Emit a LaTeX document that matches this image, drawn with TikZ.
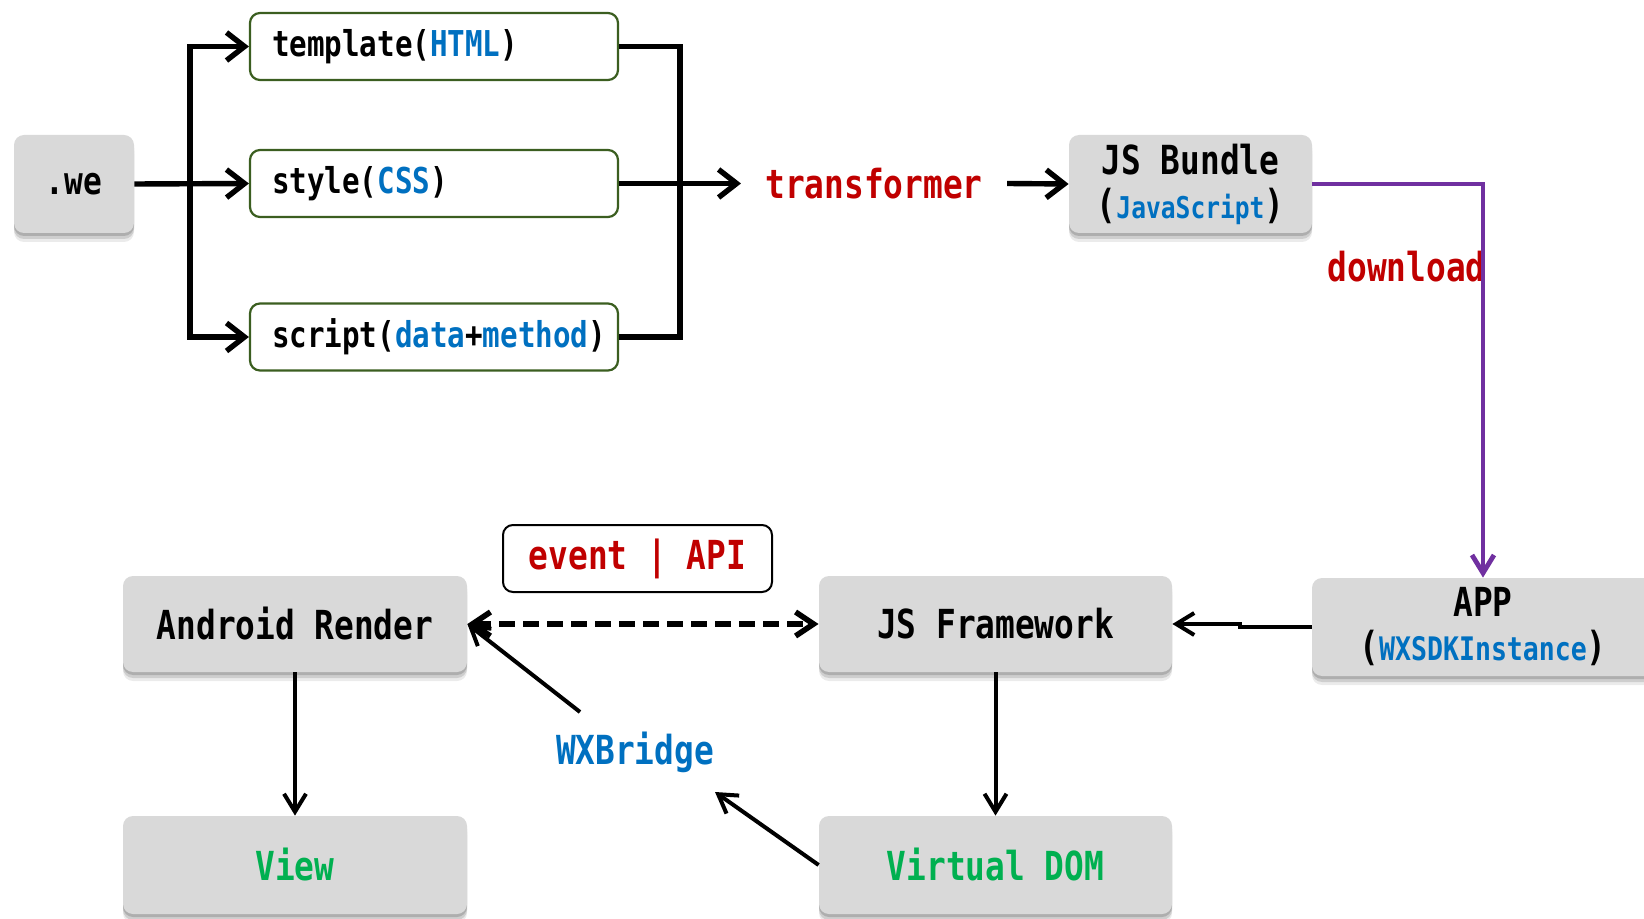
\documentclass[tikz,border=0pt]{standalone}
\usepackage{fontspec}
\setmonofont{DejaVu Sans Mono}[FakeStretch=0.82]
\usetikzlibrary{arrows.meta,positioning,shadows}

\definecolor{boxgray}{HTML}{D9D9D9}
\definecolor{partgreen}{HTML}{3B5E20}
\definecolor{cred}{HTML}{C00000}
\definecolor{cblue}{HTML}{0070C0}
\definecolor{cgreen}{HTML}{00B050}
\definecolor{cpurple}{HTML}{7030A0}

\newcommand{\bluetxt}[1]{\textcolor{cblue}{#1}}
\newcommand{\fsz}[1]{\fontsize{#1}{22}\selectfont}

\begin{document}
\begin{tikzpicture}[x=0.5pt,y=-0.5pt]
\tikzstyle{gbox}=[fill=boxgray, rounded corners=5pt, inner sep=0pt, align=center,
  drop shadow={shadow xshift=0pt,shadow yshift=-4.5pt,fill=black!40,opacity=.2},
  drop shadow={shadow xshift=0pt,shadow yshift=-3pt,fill=black!45,opacity=.3},
  drop shadow={shadow xshift=0pt,shadow yshift=-1.5pt,fill=black!50,opacity=.4},
  font=\ttfamily\bfseries\fsz{20}]
\tikzstyle{part}=[draw=partgreen, line width=1.1pt, rounded corners=5pt, fill=white,
  minimum width=184pt, minimum height=33.5pt, text width=162pt, inner xsep=11pt,
  inner ysep=0pt, align=left, font=\ttfamily\bfseries\fsz{17.8}]
\tikzstyle{lbl}=[font=\ttfamily\bfseries\fsz{20}, inner sep=0pt]
\tikzstyle{thk}=[line width=2.7pt, -{Straight Barb[length=9pt,width=14pt]}]
\tikzstyle{thn}=[line width=2pt, -{Straight Barb[length=9pt,width=11pt]}]

\useasboundingbox (0,0) rectangle (1644,919);

% source file and its parts
\node[gbox, minimum width=60pt, minimum height=49pt, font=\ttfamily\bfseries\fsz{19}] (we) at (74,184) {.we};
\node[part] (tpl) at (434,46.5) {template(\bluetxt{HTML})};
\node[part] (sty) at (434,183.5) {style(\bluetxt{CSS})};
\node[part] (scr) at (434,337) {script(\bluetxt{data}+\bluetxt{method})};

\node[lbl, text=cred, inner xsep=12pt] (trans) at (874,183.5) {transformer};
\node[gbox, minimum width=121.5pt, minimum height=49pt] (bundle) at (1190.5,184)
  {JS Bundle\\({\fsz{15}\bluetxt{JavaScript}})};
\node[lbl, text=cred, anchor=east] (dl) at (1486,267) {download};
\node[gbox, minimum width=171pt, minimum height=49pt] (app) at (1483,627)
  {APP\\({\fsz{16.2}\bluetxt{WXSDKInstance}})};

% runtime
\node[gbox, minimum width=176.5pt, minimum height=48pt] (jsf) at (995.5,624) {JS Framework};
\node[gbox, minimum width=172pt, minimum height=48pt] (andr) at (295,624) {Android Render};
\node[gbox, minimum width=172pt, minimum height=49pt, text=cgreen] (view) at (295,865) {View};
\node[gbox, minimum width=176.5pt, minimum height=49pt, text=cgreen] (vdom) at (995.5,865) {Virtual DOM};
\node[lbl, draw, line width=1pt, rounded corners=5pt, minimum width=134.5pt,
  minimum height=33.5pt, text=cred] (evt) at (637.5,558.5) {event | API};
\node[lbl, text=cblue] (wxb) at (635,752) {WXBridge};

\coordinate (fork) at (190,184);
\coordinate (merge) at (680,183.5);
\coordinate (bend) at (1240,627);
\coordinate (wxbin) at (715,792);
\coordinate (wxbout) at (580,712);

\draw[thk] (we.east) -- (sty.west);
\draw[thk] (fork) |- (tpl.west);
\draw[thk] (fork) |- (scr.west);
\draw[line width=2.7pt] (tpl.east) -| (merge);
\draw[line width=2.7pt] (scr.east) -| (merge);
\draw[thk] (sty.east) -- (trans.west);
\draw[thk] (trans.east) -- (bundle.west);
\draw[cpurple, line width=2.4pt, -{Straight Barb[length=9pt,width=11pt]}] (bundle.east) -| (app.north);

\draw[thn] (app.west) -- (bend) |- (jsf.east);
\draw[line width=2.8pt, dashed, dash pattern=on 8pt off 4pt,
  {Straight Barb[length=9pt,width=12pt]}-{Straight Barb[length=9pt,width=12pt]}] (andr.east) -- (jsf.west);
\draw[thn] (andr) -- (view);
\draw[thn] (jsf) -- (vdom);
\draw[thn] (vdom.west) -- (wxbin);
\draw[thn] (wxbout) -- (andr.east);
\end{tikzpicture}
\end{document}
